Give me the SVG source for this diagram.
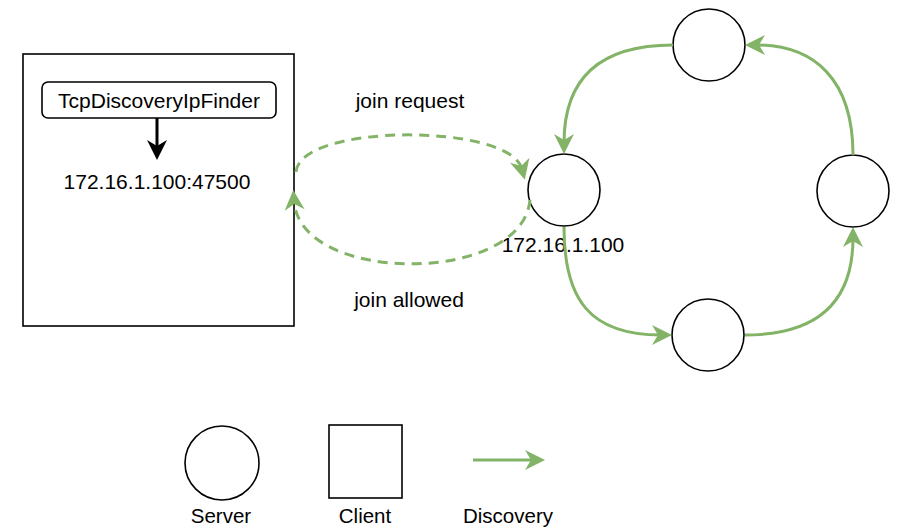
<svg xmlns="http://www.w3.org/2000/svg" width="902" height="528" viewBox="0 0 902 528">
  <style>
    .txt { font-family: "Liberation Sans", Arial, Helvetica, sans-serif; font-size: 21px; fill: #000; text-anchor: middle; }
    .legend { font-size: 20.5px; }
    .node { fill: #fff; stroke: #000; stroke-width: 1.6; }
    .flow { fill: none; stroke: #82b366; stroke-width: 3; marker-end: url(#arrowGreen); }
    .dashed { stroke-dasharray: 10 7; }
  </style>
  <defs>
    <marker id="arrowGreen" markerUnits="userSpaceOnUse" markerWidth="20" markerHeight="20" refX="9" refY="10" orient="auto" overflow="visible">
      <path d="M0,0 L20,10 L0,20 L6,10 Z" fill="#82b366"/>
    </marker>
    <marker id="arrowBlack" markerUnits="userSpaceOnUse" markerWidth="20" markerHeight="20" refX="9" refY="10" orient="auto" overflow="visible">
      <path d="M0,0 L20,10 L0,20 L6,10 Z" fill="#000"/>
    </marker>
  </defs>
  <rect width="902" height="528" fill="#fff"/>

  <!-- client node with its IP finder -->
  <g id="client">
    <rect class="node" x="23" y="54" width="271" height="272" stroke-width="2"/>
  </g>
  <g id="ip-finder">
    <rect class="node" x="42" y="82" width="234" height="36" rx="6" ry="6"/>
    <text class="txt" x="159" y="108">TcpDiscoveryIpFinder</text>
  </g>
  <g id="finder-address">
    <text class="txt" x="157" y="189">172.16.1.100:47500</text>
  </g>

  <!-- server ring -->
  <g id="server-top"><circle class="node" cx="709" cy="45" r="36"/></g>
  <g id="server-left">
    <circle class="node" cx="564" cy="190" r="36"/>
    <text class="txt" x="563" y="252">172.16.1.100</text>
  </g>
  <g id="server-right"><circle class="node" cx="853" cy="191" r="36"/></g>
  <g id="server-bottom"><circle class="node" cx="708" cy="335" r="36"/></g>

  <g id="connectors">
    <!-- finder lookup -->
    <path d="M157 118 L157 149" fill="none" stroke="#000" stroke-width="3" marker-end="url(#arrowBlack)"/>
    <!-- join handshake -->
    <path class="flow dashed" d="M296 172 C300 123 510 123 522 169"/>
    <path class="flow dashed" d="M530 200 C522 285 300 285 294 201"/>
    <!-- ring discovery -->
    <path class="flow" d="M673 45 C610 45 564 70 564 143"/>
    <path class="flow" d="M564 227 C564 300 590 335 661 335"/>
    <path class="flow" d="M745 335 C820 335 853 300 853 238"/>
    <path class="flow" d="M853 155 C853 80 815 45 756 45"/>
    <!-- legend arrow -->
    <path class="flow" d="M473 460 L534 460"/>
  </g>

  <g id="join-labels">
    <text class="txt" x="410" y="108">join request</text>
    <text class="txt" x="409" y="307">join allowed</text>
  </g>

  <!-- legend -->
  <g id="legend-server">
    <circle class="node" cx="222" cy="463" r="37"/>
    <text class="txt legend" x="221" y="523">Server</text>
  </g>
  <g id="legend-client">
    <rect class="node" x="329" y="425" width="73" height="73" stroke-width="2"/>
    <text class="txt legend" x="365" y="523">Client</text>
  </g>
  <g id="legend-discovery">
    <text class="txt legend" x="508" y="523">Discovery</text>
  </g>
</svg>
